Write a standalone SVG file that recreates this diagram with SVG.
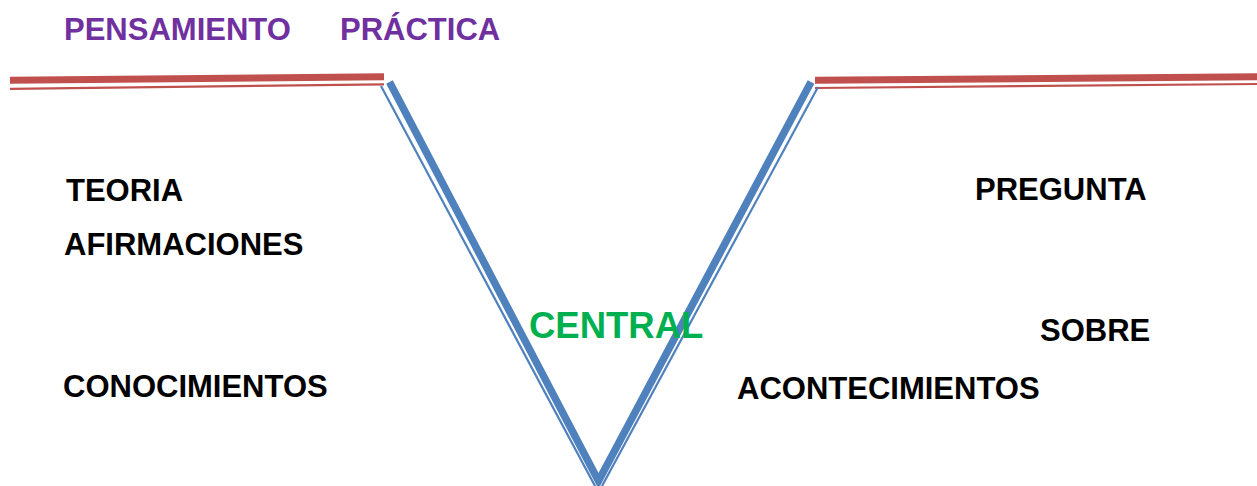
<svg xmlns="http://www.w3.org/2000/svg" width="1257" height="486" viewBox="0 0 1257 486">
  <style>
    .lbl { font-family: "Liberation Sans", Arial, sans-serif; font-weight: bold; font-size: 31px; fill: #000000; }
    .head { fill: #7030A0; }
    .mid { fill: #00B050; font-size: 36.5px; }
    .rimThick { stroke: #C0504D; stroke-width: 7; fill: none; }
    .rimThin { stroke: #C0504D; stroke-width: 2.2; fill: none; }
    .vThick { stroke: #4F81BD; stroke-width: 7.5; fill: none; stroke-linejoin: miter; }
    .vThin { stroke: #4F81BD; stroke-width: 2.2; fill: none; stroke-linejoin: miter; }
  </style>

  <!-- V shape with double-line rims -->
  <g id="connectors">
    <g id="rim-left">
      <line class="rimThick" x1="10" y1="80.3" x2="384" y2="76.7"/>
      <line class="rimThin" x1="10" y1="88.8" x2="384" y2="84.3"/>
    </g>
    <g id="rim-right">
      <line class="rimThick" x1="815" y1="80.3" x2="1257" y2="76.8"/>
      <line class="rimThin" x1="815" y1="88" x2="1257" y2="84"/>
    </g>
    <g id="v-arms">
      <polyline class="vThin" points="381,86 595,486"/>
      <polyline class="vThin" points="818,87 602,486"/>
      <polyline class="vThick" points="389.5,82 598.5,481 811,82"/>
    </g>
  </g>

  <!-- headings -->
  <g id="heading-pensamiento"><text class="lbl head" x="64" y="40">PENSAMIENTO</text></g>
  <g id="heading-practica"><text class="lbl head" x="340" y="40">PRÁCTICA</text></g>

  <!-- left side -->
  <g id="teoria"><text class="lbl" x="66" y="201">TEORIA</text></g>
  <g id="afirmaciones"><text class="lbl" x="64" y="255">AFIRMACIONES</text></g>
  <g id="conocimientos"><text class="lbl" x="63" y="397">CONOCIMIENTOS</text></g>

  <!-- centre -->
  <g id="central"><text class="lbl mid" x="529" y="338">CENTRAL</text></g>

  <!-- right side -->
  <g id="pregunta"><text class="lbl" x="975" y="200">PREGUNTA</text></g>
  <g id="sobre"><text class="lbl" x="1040" y="341">SOBRE</text></g>
  <g id="acontecimientos"><text class="lbl" x="737" y="399">ACONTECIMIENTOS</text></g>
</svg>
